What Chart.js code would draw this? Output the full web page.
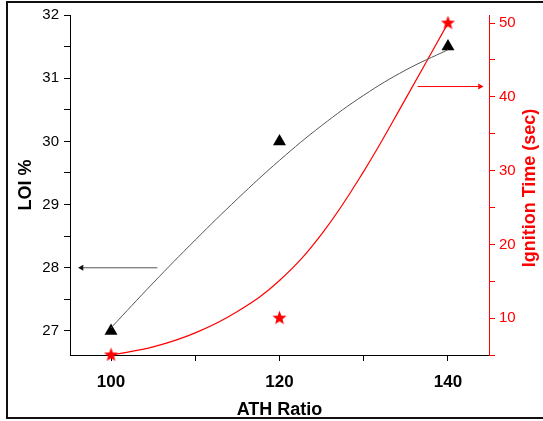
<!DOCTYPE html>
<html>
<head>
<meta charset="utf-8">
<script src="https://cdn.jsdelivr.net/npm/chart.js@4.4.0/dist/chart.umd.min.js"></script>
<style>
  html, body { margin: 0; padding: 0; background: #fff; }
  #wrap { width: 543px; height: 421px; }
</style>
</head>
<body>
<div id="wrap"><canvas id="chart" width="543" height="421"></canvas></div>
<script>
// measured points
const ratios = [100, 120, 140];
const loi = [27, 30, 31.5];
const ignition = [5, 10, 50];

// fitted curves
const fitX = [100, 105, 110, 115, 120, 125, 130, 135, 140];
const loiFit = [27.05, 27.76, 28.44, 29.09, 29.70, 30.25, 30.73, 31.13, 31.45];
const ignitionFit = [5.0, 6.1, 8.0, 10.9, 15.1, 21.4, 29.9, 39.8, 50.0];

// axis ticks
const xTicks = [100, 110, 120, 130, 140];
const xLabels = [100, 120, 140];
const loiTicks = [27, 27.5, 28, 28.5, 29, 29.5, 30, 30.5, 31, 31.5, 32];
const loiLabels = [27, 28, 29, 30, 31, 32];
const timeTicks = [5, 10, 15, 20, 25, 30, 35, 40, 45, 50];
const timeLabels = [10, 20, 30, 40, 50];

// arrows pointing to the axis each curve belongs to
const loiArrowX = [105.5, 96.5];
const loiArrowY = [28, 28];
const timeArrowX = [136.4, 143.8];
const timeArrowY = [41.4, 41.4];

const RED = '#ff0000';

function xy(xs, ys) {
  return xs.map((x, i) => ({ x: x, y: ys[i] }));
}

function makeStar(color, r) {
  const c = document.createElement('canvas');
  const s = Math.ceil(r * 2 + 2);
  c.width = s; c.height = s;
  const g = c.getContext('2d');
  g.fillStyle = color;
  g.beginPath();
  for (let i = 0; i < 10; i++) {
    const rad = i % 2 === 0 ? r : r * 0.42;
    const a = -Math.PI / 2 + i * Math.PI / 5;
    const px = s / 2 + rad * Math.cos(a);
    const py = s / 2 + rad * Math.sin(a);
    if (i === 0) g.moveTo(px, py); else g.lineTo(px, py);
  }
  g.closePath();
  g.fill();
  return c;
}
const star = makeStar(RED, 7.5);

// frame around the figure and the right title (reads bottom to top)
const extras = {
  id: 'extras',
  afterDraw(chart) {
    const ctx = chart.ctx;
    ctx.save();
    ctx.strokeStyle = '#111';
    ctx.lineWidth = 2;
    ctx.strokeRect(7, 2, 560, 416);
    const area = chart.chartArea;
    ctx.translate(530, (area.top + area.bottom) / 2 + 3);
    ctx.rotate(-Math.PI / 2);
    ctx.fillStyle = RED;
    ctx.font = 'bold 18px "Liberation Sans", Arial, sans-serif';
    ctx.textAlign = 'center';
    ctx.textBaseline = 'middle';
    ctx.fillText('Ignition Time (sec)', 0, 0);
    ctx.restore();
  }
};

const font = '"Liberation Sans", Arial, sans-serif';

new Chart(document.getElementById('chart').getContext('2d'), {
  type: 'line',
  data: {
    datasets: [
      {
        data: xy(fitX, loiFit), yAxisID: 'y',
        borderColor: '#555', borderWidth: 1, pointRadius: 0,
        tension: 0.4, fill: false
      },
      {
        data: xy(fitX, ignitionFit), yAxisID: 'y1',
        borderColor: RED, borderWidth: 1.2, pointRadius: 0,
        tension: 0.4, fill: false
      },
      {
        data: xy(ratios, loi), yAxisID: 'y', showLine: false,
        pointStyle: 'triangle', pointRadius: 7.5,
        pointBackgroundColor: '#000', pointBorderColor: '#000', pointBorderWidth: 0
      },
      {
        data: xy(ratios, ignition), yAxisID: 'y1', showLine: false,
        pointStyle: star, pointRadius: 7.5
      },
      {
        data: xy(loiArrowX, loiArrowY), yAxisID: 'y',
        borderColor: '#555', borderWidth: 1,
        pointStyle: 'triangle', pointRotation: -90, pointRadius: [0, 3.5],
        pointBackgroundColor: '#111', pointBorderColor: '#111', pointBorderWidth: 0
      },
      {
        data: xy(timeArrowX, timeArrowY), yAxisID: 'y1',
        borderColor: RED, borderWidth: 1,
        pointStyle: 'triangle', pointRotation: 90, pointRadius: [0, 3.5],
        pointBackgroundColor: RED, pointBorderColor: RED, pointBorderWidth: 0
      }
    ]
  },
  options: {
    responsive: false,
    animation: false,
    clip: false,
    layout: { padding: { top: 15, left: 0, right: 0, bottom: 0 } },
    plugins: { legend: { display: false }, tooltip: { enabled: false } },
    scales: {
      x: {
        type: 'linear', min: 95.13, max: 144.87,
        afterBuildTicks: (axis) => { axis.ticks = xTicks.map(v => ({ value: v })); },
        afterFit: (scale) => { scale.height = 66; },
        border: { display: true, color: '#000', width: 1 },
        grid: { drawOnChartArea: false, drawTicks: true, tickLength: 6, color: '#000' },
        ticks: {
          color: '#000', padding: 11, maxRotation: 0, autoSkip: false,
          font: { family: font, size: 17, weight: 'bold' },
          callback: (v) => xLabels.includes(v) ? String(v) : ''
        },
        title: {
          display: true, text: 'ATH Ratio', color: '#000',
          font: { family: font, size: 18, weight: 'bold' },
          padding: { top: 2, bottom: 0 }
        }
      },
      y: {
        position: 'left', min: 26.62, max: 32,
        afterBuildTicks: (axis) => { axis.ticks = loiTicks.map(v => ({ value: v })); },
        afterFit: (scale) => { scale.width = 70; },
        border: { display: true, color: '#000', width: 1 },
        grid: { drawOnChartArea: false, drawTicks: true, tickLength: 6, color: '#000' },
        ticks: {
          color: '#000', padding: 5, autoSkip: false,
          font: { family: font, size: 15 },
          callback: (v) => loiLabels.includes(v) ? String(v) : ''
        },
        title: {
          display: true, text: 'LOI %', color: '#000',
          font: { family: font, size: 18, weight: 'bold' },
          padding: { top: 15, bottom: 0 }
        }
      },
      y1: {
        position: 'right', min: 5, max: 51.1,
        afterBuildTicks: (axis) => { axis.ticks = timeTicks.map(v => ({ value: v })); },
        afterFit: (scale) => { scale.width = 54; },
        border: { display: true, color: RED, width: 1 },
        grid: { drawOnChartArea: false, drawTicks: true, tickLength: 6, color: RED },
        ticks: {
          color: RED, padding: 4, autoSkip: false,
          font: { family: font, size: 15 },
          callback: (v) => timeLabels.includes(v) ? String(v) : ''
        }
      }
    }
  },
  plugins: [extras]
});
</script>
</body>
</html>
